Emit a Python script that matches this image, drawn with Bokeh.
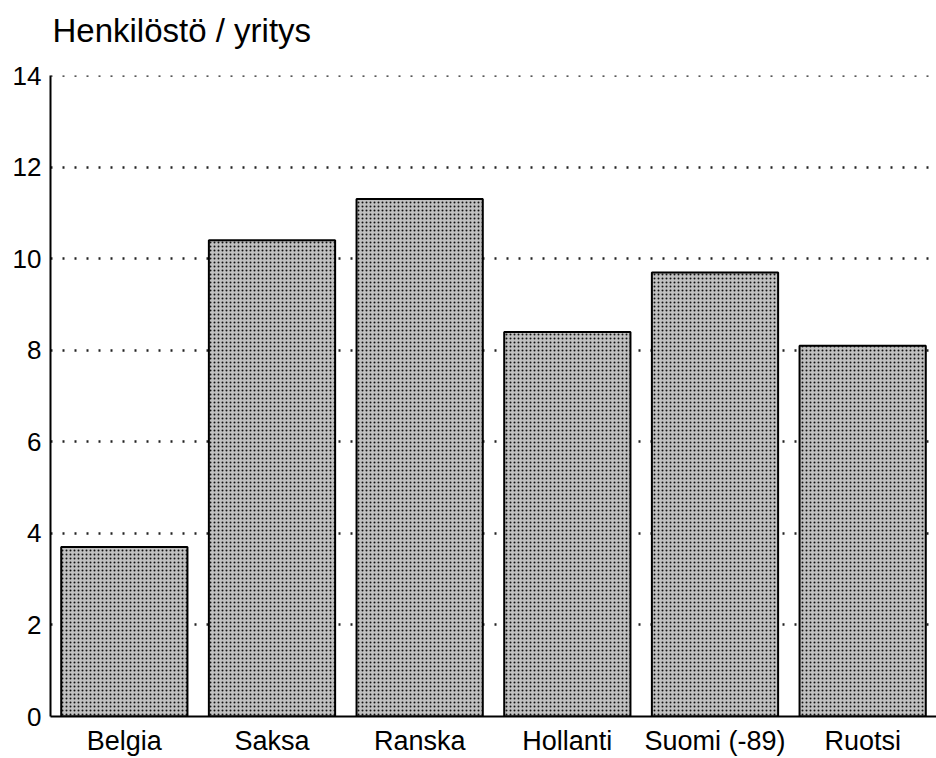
from bokeh.plotting import figure
from bokeh.models import ColumnDataSource, FixedTicker, Span, Title
from bokeh.embed import file_html
from bokeh.resources import INLINE

countries = ["Belgia", "Saksa", "Ranska", "Hollanti", "Suomi (-89)", "Ruotsi"]
staff_per_firm = [3.7, 10.4, 11.3, 8.4, 9.7, 8.1]
y_ticks = [0, 2, 4, 6, 8, 10, 12, 14]

src = ColumnDataSource(dict(x=countries, top=staff_per_firm))

p = figure(x_range=countries, y_range=(0, 14), width=936, height=758,
           output_backend="svg", toolbar_location=None,
           title="Henkilöstö / yritys",
           min_border_left=50, min_border_right=0, min_border_top=10, min_border_bottom=30)

p.vbar(x="x", top="top", width=0.855, source=src,
       fill_color="#c0c0c0", line_color="black", line_width=2,
       hatch_pattern="dot", hatch_color="#111111", hatch_scale=4, hatch_weight=2)

p.add_layout(Span(location=14, dimension="width", line_color="#222222",
                  line_width=2.5, line_dash="2 10"))

# spacer between title and frame
p.add_layout(Title(text=" ", text_font_size="2px", standoff=14), "above")

p.title.text_font = "Liberation Sans"
p.title.text_font_size = "33px"
p.title.text_font_style = "normal"
p.title.text_color = "black"
p.title.offset = 2
p.title.standoff = 18

p.outline_line_color = None
p.xgrid.grid_line_color = None
p.ygrid.ticker = FixedTicker(ticks=y_ticks)
p.ygrid.grid_line_color = "#222222"
p.ygrid.grid_line_width = 2.5
p.ygrid.grid_line_dash = "2 10"

p.yaxis.ticker = FixedTicker(ticks=y_ticks)
p.yaxis.axis_line_width = 2
p.yaxis.axis_line_color = "black"
p.yaxis.major_tick_out = 0
p.yaxis.major_tick_in = 0
p.yaxis.minor_tick_line_color = None
p.yaxis.major_label_text_font = "Liberation Sans"
p.yaxis.major_label_text_font_size = "26px"
p.yaxis.major_label_text_color = "black"
p.yaxis.major_label_standoff = 9

p.xaxis.axis_line_width = 2
p.xaxis.axis_line_color = "black"
p.xaxis.major_tick_out = 0
p.xaxis.major_tick_in = 0
p.xaxis.major_label_text_font = "Liberation Sans"
p.xaxis.major_label_text_font_size = "27px"
p.xaxis.major_label_text_color = "black"
p.xaxis.major_label_standoff = 9
p.x_range.range_padding = 0

open("out.html", "w").write(file_html(p, INLINE))
